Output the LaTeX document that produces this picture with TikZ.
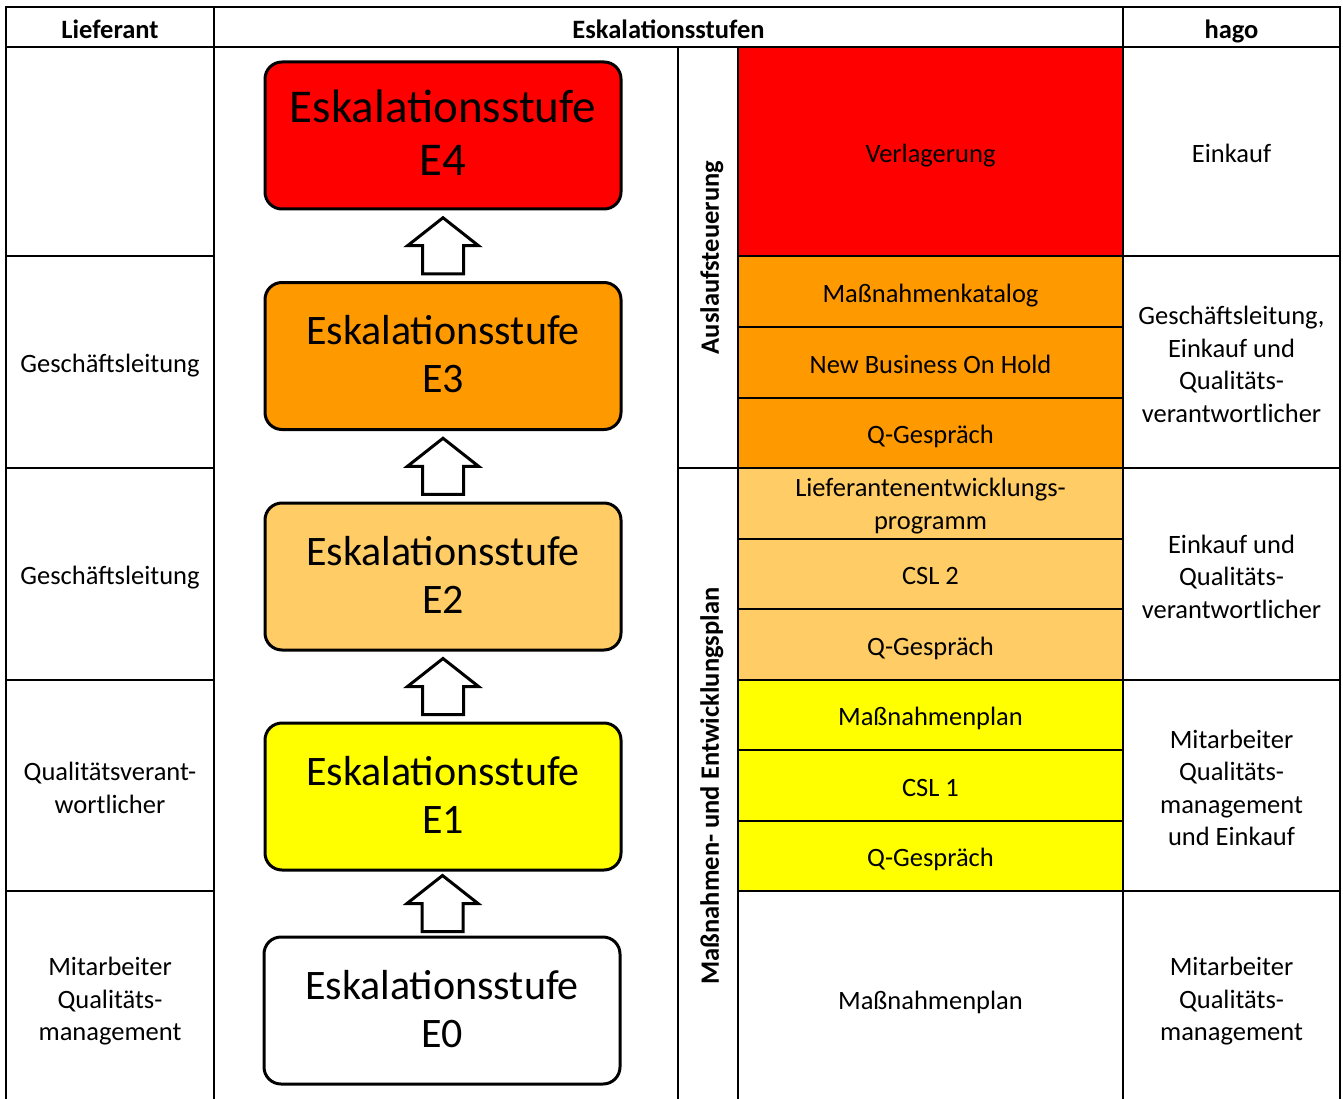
\documentclass[tikz,border=0pt]{standalone}
\usepackage{fontspec}
\setmainfont{Carlito}
\usetikzlibrary{calc}
\definecolor{cred}{HTML}{FF0000}
\definecolor{corange}{HTML}{FF9900}
\definecolor{clight}{HTML}{FFCC66}
\definecolor{cyellow}{HTML}{FFFF00}
\begin{document}
\begin{tikzpicture}[x=1pt,y=-1pt,
  gridline/.style={line width=2.4pt, line cap=rect},
  basetxt/.style={font=\fontsize{26.5}{32.5}\selectfont, align=center, inner sep=0pt},
  mtxt/.style={basetxt, yshift=-2.5pt},
  txt/.style={basetxt, text height=24pt, text depth=2.5pt},
  headtxt/.style={txt, font=\fontsize{26.5}{32.5}\selectfont\bfseries},
  stage/.style={draw, line width=3pt, rounded corners=17pt, minimum width=356pt, minimum height=147pt, align=center, inner sep=0pt, font=\fontsize{42}{48}\selectfont},
  uparrow/.style={draw, line width=3pt, fill=white, line join=miter}
]
\useasboundingbox (0,0) rectangle (1343,1099);
\fill[white] (0,0) rectangle (1343,1099);
% coloured cells
\fill[cred]    (738,47)  rectangle (1123,256);
\fill[corange] (738,256) rectangle (1123,468);
\fill[clight]  (738,468) rectangle (1123,680);
\fill[cyellow] (738,680) rectangle (1123,891);
% grid
\draw[gridline] (6,1099) -- (6,7) -- (1340,7) -- (1340,1099);
\draw[gridline] (6,47) -- (1340,47);
\draw[gridline] (214,7) -- (214,1099);
\draw[gridline] (1123,7) -- (1123,1099);
\draw[gridline] (678,47) -- (678,1099);
\draw[gridline] (738,47) -- (738,1099);
\foreach \yy in {256,468,680,891} {
  \draw[gridline] (6,\yy) -- (214,\yy);
  \draw[gridline] (1123,\yy) -- (1340,\yy);
}
\foreach \yy in {256,327,398,468,539,609,680,750,821,891} {
  \draw[gridline] (738,\yy) -- (1123,\yy);
}
\draw[gridline] (678,468) -- (738,468);
% headers
\node[headtxt] (h1) at (110,27.5) {Lieferant};
\node[headtxt] (h2) at (668.5,27.5) {Eskalationsstufen};
\node[headtxt] (h3) at (1231.5,27.5) {hago};
% vertical labels
\node[headtxt, rotate=90] (v1) at (708,257.5) {Auslaufsteuerung};
\node[headtxt, rotate=90] (v2) at (708,786) {Maßnahmen- und Entwicklungsplan};
% left column
\node[txt] (l2) at (110,362) {Geschäftsleitung};
\node[txt] (l3) at (110,574) {Geschäftsleitung};
\node[mtxt] (l4) at (110,785.5) {Qualitätsverant-\\wortlicher};
\node[mtxt] (l5) at (110,999) {Mitarbeiter\\Qualitäts-\\management};
% right column
\node[txt] (r1) at (1231.5,151.5) {Einkauf};
\node[mtxt] (r2) at (1231.5,362) {Geschäftsleitung,\\Einkauf und\\Qualitäts-\\verantwortlicher};
\node[mtxt] (r3) at (1231.5,574) {Einkauf und\\Qualitäts-\\verantwortlicher};
\node[mtxt] (r4) at (1231.5,785.5) {Mitarbeiter\\Qualitäts-\\management\\und Einkauf};
\node[mtxt] (r5) at (1231.5,999) {Mitarbeiter\\Qualitäts-\\management};
% middle column
\node[txt] (m1) at (930.5,151.5) {Verlagerung};
\node[txt] (m2) at (930.5,291.5) {Maßnahmenkatalog};
\node[txt] (m3) at (930.5,362.5) {New Business On Hold};
\node[txt] (m4) at (930.5,433) {Q-Gespräch};
\node[mtxt] (m5) at (930.5,503.5) {Lieferantenentwicklungs-\\programm};
\node[txt] (m6) at (930.5,574) {CSL 2};
\node[txt] (m7) at (930.5,644.5) {Q-Gespräch};
\node[txt] (m8) at (930.5,715) {Maßnahmenplan};
\node[txt] (m9) at (930.5,785.5) {CSL 1};
\node[txt] (m10) at (930.5,856) {Q-Gespräch};
\node[txt] (m11) at (930.5,999) {Maßnahmenplan};
% stages
\node[stage, fill=cred, font=\fontsize{47}{53}\selectfont] (e4) at (443,135.5) {Eskalationsstufe\\E4\rule[-5pt]{0pt}{5pt}};
\node[stage, fill=corange] (e3) at (443,356) {Eskalationsstufe\\E3\rule[-4pt]{0pt}{4pt}};
\node[stage, fill=clight] (e2) at (443,576.5) {Eskalationsstufe\\E2\rule[-4pt]{0pt}{4pt}};
\node[stage, fill=cyellow] (e1) at (443,796.5) {Eskalationsstufe\\E1\rule[-4pt]{0pt}{4pt}};
\node[stage, fill=white] (e0) at (442,1010.5) {Eskalationsstufe\\E0\rule[-3pt]{0pt}{3pt}};
% block arrows
\foreach \lo/\hi in {e3/e4,e2/e3,e1/e2,e0/e1} {
  \draw[uparrow] ($(\lo.north)!0.5!(\hi.south)$) ++(0,-28) -- ++(35.5,28) -- ++(-15,0) -- ++(0,28) -- ++(-41,0) -- ++(0,-28) -- ++(-15,0) -- cycle;
}
\end{tikzpicture}
\end{document}
